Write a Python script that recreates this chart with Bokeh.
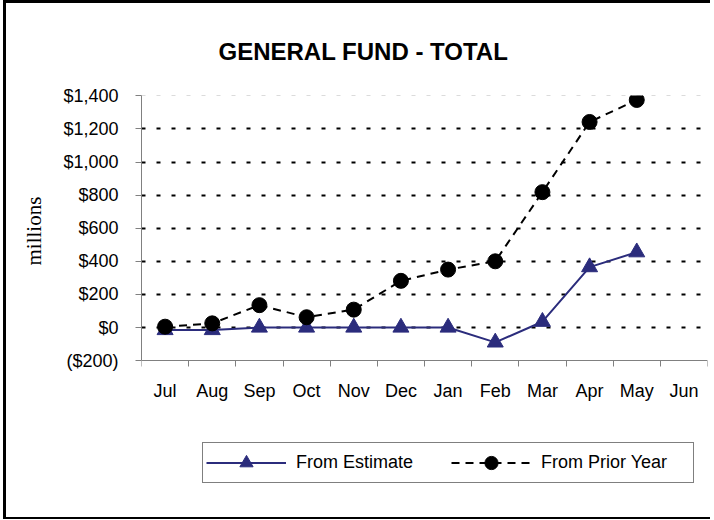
from bokeh.plotting import figure
from bokeh.models import Range1d, FixedTicker, Legend, LegendItem, Title, Grid
from bokeh.embed import file_html
from bokeh.resources import INLINE

months = ["Jul", "Aug", "Sep", "Oct", "Nov", "Dec", "Jan", "Feb", "Mar", "Apr", "May", "Jun"]
from_estimate = [-15, -15, 0, 0, 0, 0, 0, -90, 35, 365, 455]
from_prior_year = [5, 25, 135, 62, 108, 282, 350, 400, 818, 1242, 1375]
y_ticks = [-200, 0, 200, 400, 600, 800, 1000, 1200, 1400]
y_tick_labels = ["($200)", "$0", "$200", "$400", "$600", "$800", "$1,000", "$1,200", "$1,400"]

title_text = "GENERAL FUND - TOTAL"
y_label = "millions"
label_estimate = "From Estimate"
label_prior = "From Prior Year"

NAVY = "#2B2C7C"
FONT = "Liberation Sans"
# extra room below the value axis (in data units) so the legend lies inside the frame
Y_FRAME_BOTTOM = -985
Y_FRAME_TOP = 1402

n = len(months)
x_est = [i + 0.5 for i in range(len(from_estimate))]
x_prior = [i + 0.5 for i in range(len(from_prior_year))]

p = figure(width=707, height=519, x_range=Range1d(0, n), y_range=Range1d(Y_FRAME_BOTTOM, Y_FRAME_TOP),
           output_backend="svg", toolbar_location=None,
           min_border_left=134, min_border_right=6, min_border_top=92, min_border_bottom=32)
p.styles = {"margin-left": "3px", "border-left": "3px solid black",
            "border-top": "3px solid black", "border-bottom": "2px solid black"}
p.outline_line_color = None
p.background_fill_color = "white"
p.border_fill_color = "white"

p.title.text = title_text
p.title.align = "left"
p.title.offset = 77
p.title.vertical_align = "middle"
p.title.text_font = FONT
p.title.text_font_size = "24px"
p.title.text_font_style = "bold"
p.title.text_color = "black"
p.title.standoff = 60

# x axis, drawn at the bottom of the value range
p.xaxis.fixed_location = y_ticks[0]
p.xaxis.ticker = FixedTicker(ticks=[i + 0.5 for i in range(n)], minor_ticks=list(range(n + 1)))
p.xaxis.major_label_overrides = {i + 0.5: m for i, m in enumerate(months)}
p.xaxis.major_tick_line_color = None
p.xaxis.minor_tick_out = 6
p.xaxis.minor_tick_in = 0
p.xaxis.minor_tick_line_color = "#808080"
p.xaxis.axis_line_color = "#808080"
p.xaxis.major_label_text_font = FONT
p.xaxis.major_label_text_font_size = "18px"
p.xaxis.major_label_text_color = "black"
p.xaxis.major_label_standoff = 14

# y axis
p.yaxis.bounds = (y_ticks[0], y_ticks[-1])
p.yaxis.ticker = FixedTicker(ticks=y_ticks, minor_ticks=[])
p.yaxis.major_label_overrides = {t: l for t, l in zip(y_ticks, y_tick_labels)}
p.yaxis.major_tick_out = 6
p.yaxis.major_tick_in = 0
p.yaxis.major_tick_line_color = "#808080"
p.yaxis.axis_line_color = "#808080"
p.yaxis.major_label_text_font = FONT
p.yaxis.major_label_text_font_size = "18px"
p.yaxis.major_label_text_color = "black"
p.yaxis.major_label_standoff = 17

# y axis title, placed beside the value labels
ytitle = Title(text=y_label, align="left", offset=225, vertical_align="middle", standoff=28,
               text_font="Liberation Serif", text_font_size="21px", text_font_style="normal",
               text_color="black")
p.add_layout(ytitle, "left")

p.xgrid.grid_line_color = None
p.ygrid.ticker = FixedTicker(ticks=y_ticks[1:-1], minor_ticks=[])
p.ygrid.grid_line_color = "black"
p.ygrid.grid_line_width = 2
p.ygrid.grid_line_dash = "4 11"
top_grid = Grid(dimension=1, ticker=FixedTicker(ticks=y_ticks[-1:], minor_ticks=[]),
                grid_line_color="#b8b8b8", grid_line_width=1, grid_line_dash="4 11")
p.add_layout(top_grid)

l1 = p.line(x_est, from_estimate, line_color=NAVY, line_width=2)
s1 = p.scatter(x_est, from_estimate, marker="triangle", size=16, fill_color=NAVY, line_color=NAVY)
l2 = p.line(x_prior, from_prior_year, line_color="black", line_width=2, line_dash="8 6")
s2 = p.scatter(x_prior, from_prior_year, marker="circle", size=15, fill_color="black", line_color="black")

legend = Legend(items=[LegendItem(label=label_estimate, renderers=[l1, s1]),
                       LegendItem(label=label_prior, renderers=[l2, s2])],
                location=(61, 7), orientation="horizontal")
legend.glyph_width = 80
legend.glyph_height = 33
legend.label_standoff = 10
legend.label_width = 149
legend.spacing = 6
legend.padding = 3
legend.margin = 0
legend.border_line_color = "black"
legend.border_line_width = 1
legend.background_fill_color = "white"
legend.background_fill_alpha = 1
legend.label_text_font = FONT
legend.label_text_font_size = "18px"
legend.label_text_color = "black"
p.add_layout(legend, "center")

open("out.html", "w").write(file_html(p, INLINE))
